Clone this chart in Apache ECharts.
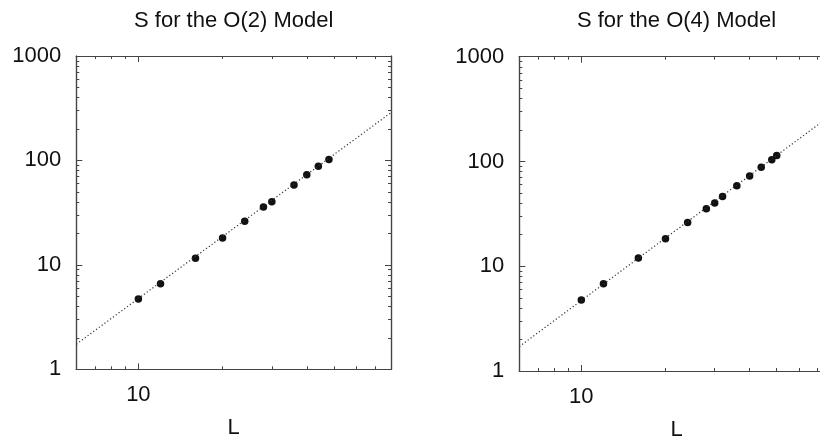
<!DOCTYPE html>
<html>
<head>
<meta charset="utf-8">
<script src="https://cdn.jsdelivr.net/npm/echarts@6/dist/echarts.min.js"></script>
<style>html,body{margin:0;padding:0;background:#fff}#c{width:820px;height:438px}</style>
</head>
<body>
<div id="c"></div>
<script>
// Data
const TITLES = ['S for the O(2) Model', 'S for the O(4) Model'];
const X_NAME = 'L';
const L_O2 = [10, 12, 16, 20, 24, 28, 30, 36, 40, 44, 48];
const S_O2 = [4.7, 6.6, 11.6, 18.1, 26.2, 35.9, 40.3, 58.3, 73.1, 88, 101.8];
const L_O4 = [10, 12, 16, 20, 24, 28, 30, 32, 36, 40, 44, 48, 50];
const S_O4 = [4.76, 6.81, 11.97, 18.3, 26.2, 35.4, 40.1, 46.4, 58.7, 72.5, 87.9, 103.8, 114.3];
const FIT_L = [6, 80];
const FIT_O2 = [1.74, 287];
const FIT_O4 = [1.71, 290];
const X_RANGE = [6, 80];
const Y_RANGE = [1, 1000];
const X_MAJOR = [10];
const X_MINOR = [7, 8, 9, 20, 30, 40, 50, 60, 70];
const Y_MAJOR = [1, 10, 100, 1000];
const Y_MINOR = [2,3,4,5,6,7,8,9,20,30,40,50,60,70,80,90,200,300,400,500,600,700,800,900];

const FONT = 'Liberation Sans, Arial, Helvetica, sans-serif';
const AX = '#444';
const TXT = '#111';

const grids = [
  {left: 76.3, top: 56, width: 314.7, height: 313.3},
  {left: 519.3, top: 56.7, width: 314.5, height: 314.3}
];

const fmt = v => String(Math.round(v));
const xAxes = [], yAxes = [];
function addX(g, pos, ticks, len, isMain) {
  xAxes.push({
    type: 'log', logBase: 10, gridIndex: g, position: pos,
    min: X_RANGE[0], max: X_RANGE[1],
    name: isMain ? X_NAME : '', nameLocation: 'middle', nameGap: 48,
    nameTextStyle: {fontFamily: FONT, fontSize: 22, color: TXT},
    axisLine: {show: true, lineStyle: {color: AX, width: 1.2}},
    axisTick: {show: true, inside: true, length: len, customValues: ticks, lineStyle: {color: AX, width: 1}},
    axisLabel: {show: isMain, customValues: X_MAJOR, formatter: fmt, margin: 15, fontFamily: FONT, fontSize: 22, color: TXT},
    splitLine: {show: false}, minorTick: {show: false}
  });
  return xAxes.length - 1;
}
function addY(g, pos, ticks, len, isMain) {
  yAxes.push({
    type: 'log', logBase: 10, gridIndex: g, position: pos,
    min: Y_RANGE[0], max: Y_RANGE[1],
    axisLine: {show: true, lineStyle: {color: AX, width: 1.2}},
    axisTick: {show: true, inside: true, length: len, customValues: ticks, lineStyle: {color: AX, width: 1}},
    axisLabel: {show: isMain, customValues: Y_MAJOR, formatter: fmt, margin: 15, fontFamily: FONT, fontSize: 22, color: TXT},
    splitLine: {show: false}, minorTick: {show: false}
  });
  return yAxes.length - 1;
}

const sets = [[L_O2, S_O2, FIT_O2], [L_O4, S_O4, FIT_O4]];
const series = [];
const titles = [];
grids.forEach((gr, g) => {
  const xi = addX(g, 'bottom', X_MAJOR, 6, true);
  addX(g, 'bottom', X_MINOR, 3, false);
  addX(g, 'top', X_MAJOR, 6, false);
  addX(g, 'top', X_MINOR, 3, false);
  const yi = addY(g, 'left', Y_MAJOR, 6, true);
  addY(g, 'left', Y_MINOR, 3, false);
  addY(g, 'right', Y_MAJOR, 6, false);
  addY(g, 'right', Y_MINOR, 3, false);
  const [Ls, Ss, fit] = sets[g];
  series.push({
    type: 'line', xAxisIndex: xi, yAxisIndex: yi,
    data: FIT_L.map((l, i) => [l, fit[i]]),
    symbol: 'none', silent: true,
    lineStyle: {color: '#333', width: 1.2, type: [1.2, 2.3]}
  });
  series.push({
    type: 'scatter', xAxisIndex: xi, yAxisIndex: yi,
    data: Ls.map((l, i) => [l, Ss[i]]),
    symbol: 'circle', symbolSize: 7.5,
    itemStyle: {color: '#111', opacity: 1}
  });
  titles.push({
    text: TITLES[g], left: gr.left + gr.width / 2, top: 10, textAlign: 'center', padding: 0,
    textStyle: {fontFamily: FONT, fontSize: 22, fontWeight: 'normal', color: TXT}
  });
});

const chart = echarts.init(document.getElementById('c'), null, {renderer: 'canvas'});
chart.setOption({
  animation: false,
  backgroundColor: '#fff',
  title: titles,
  grid: grids.map(g => Object.assign({containLabel: false, outerBoundsMode: 'none'}, g)),
  xAxis: xAxes,
  yAxis: yAxes,
  series: series
});
</script>
</body>
</html>
